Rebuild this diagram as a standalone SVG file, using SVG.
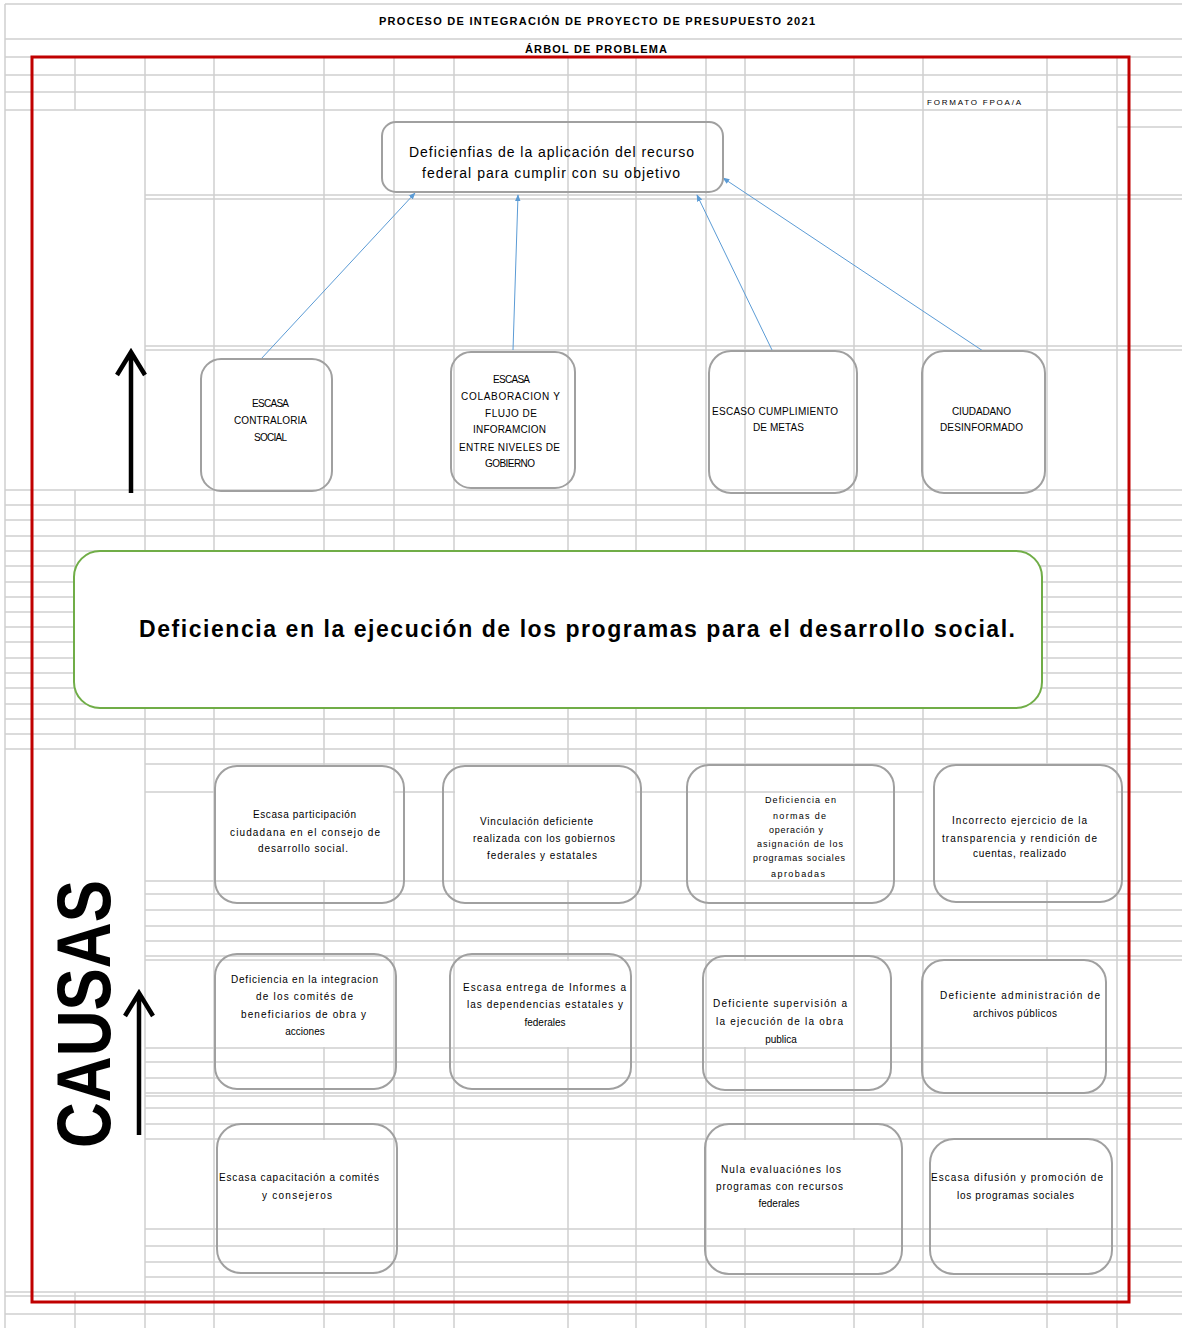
<svg xmlns="http://www.w3.org/2000/svg" width="1182" height="1328" viewBox="0 0 1182 1328">
<defs>
<style>
.g{stroke:#d0d0d0;stroke-width:1.5;fill:none}
.m{fill:#fff;stroke:none}
.box{fill:none;stroke:#a0a0a0;stroke-width:2}
.t{font-family:"Liberation Sans",Arial,sans-serif;font-size:10px;fill:#000}
.s{font-size:9px}
.c{text-anchor:middle}
.h{font-family:"Liberation Sans",Arial,sans-serif;font-weight:bold;font-size:11px;fill:#000}
.conn{stroke:#5b9bd5;stroke-width:1;fill:none;marker-end:url(#ah)}
.big{stroke:#000;stroke-width:4.5;fill:none;stroke-linejoin:miter}
</style>
<marker id="ah" viewBox="0 0 10 10" refX="9" refY="5" markerWidth="7" markerHeight="7" markerUnits="userSpaceOnUse" orient="auto"><path d="M0,1 L10,5 L0,9 z" fill="#5b9bd5"/></marker>
</defs>
<rect width="1182" height="1328" fill="#fff"/>
<g id="grid">
<path class="g" d="M5 4H1182M5 39H1182M5 57H1182M5 75H1182M5 92H1182M5 110H1182M1117 127H1182M145 195H1182M145 199H1182M145 346H1182M145 350H1182M5 490H1182M5 505H1182M5 520H1182M5 536H1182M5 551H1182M5 566H1182M5 582H1182M5 597H1182M5 612H1182M5 627H1182M5 642H1182M5 658H1182M5 673H1182M5 688H1182M5 704H1182M5 719H1182M5 734H1182M5 749H1182M145 764H1182M145 792H1182M145 881H1182M145 894H1182M145 910H1182M145 926H1182M145 941H1182M145 956H1182M145 960H1182M145 1048H1182M145 1062H1182M145 1078H1182M145 1093H1182M145 1096H1182M145 1108H1182M145 1124H1182M145 1139H1182M145 1229H1182M145 1246H1182M145 1262H1182M145 1277H1182M5 1292H1182M5 1296H1182M5 1314H1182"/>
<path class="g" d="M5 4V1328M75 57V110M75 490V749M75 1292V1328M145 57V1328M214 57V1328M324 57V1328M394 57V1328M454 57V1328M568 57V1328M636 57V1328M706 57V1328M745 57V1328M854 57V1328M923 57V1328M1047 57V1328M1117 57V1328"/>
<rect class="m" x="215" y="765" width="178" height="115"/>
<rect class="m" x="455" y="765" width="180" height="115"/>
<rect class="m" x="924" y="765" width="192" height="115"/>
<rect class="m" x="215" y="961" width="178" height="86"/>
<rect class="m" x="455" y="961" width="180" height="86"/>
<rect class="m" x="707" y="961" width="146" height="86"/>
<rect class="m" x="924" y="961" width="192" height="86"/>
<rect class="m" x="215" y="1140" width="178" height="88"/>
<rect class="m" x="707" y="1140" width="215" height="88"/>
<rect class="m" x="924" y="1140" width="192" height="88"/>
</g>
<g id="header">
<text class="h" x="379" y="25" textLength="436">PROCESO DE INTEGRACIÓN DE PROYECTO DE PRESUPUESTO 2021</text>
<text class="h" x="525" y="53" textLength="142">ÁRBOL DE PROBLEMA</text>
<text class="t" x="927" y="105" style="font-size:8px" textLength="94">FORMATO FPOA/A</text>
</g>
<rect id="frame" x="32" y="57" width="1097" height="1245" fill="none" stroke="#c00000" stroke-width="3"/>
<g id="connectors">
<line class="conn" x1="261" y1="359" x2="415" y2="193"/>
<line class="conn" x1="513" y1="350" x2="518" y2="195"/>
<line class="conn" x1="772" y1="350" x2="697" y2="195"/>
<line class="conn" x1="983" y1="351" x2="723" y2="178"/>
</g>
<g id="arrows">
<path class="big" d="M131 493V353M117 375L131 352L145 375"/>
<path class="big" d="M139 1135V994M125 1016L139 993L153 1016"/>
</g>
<text id="causas" transform="translate(110,1148) rotate(-90)" font-family="'Liberation Sans',Arial,sans-serif" font-weight="bold" font-size="76" textLength="268" lengthAdjust="spacingAndGlyphs" fill="#000">CAUSAS</text>
<g id="n-top">
<rect class="box" x="382" y="122" width="341" height="70" rx="14"/>
<text class="t" style="font-size:14px" x="409" y="157" textLength="285">Deficienfias de la aplicación del recurso</text>
<text class="t" style="font-size:14px" x="422" y="178" textLength="258">federal para cumplir con su objetivo</text>
</g>
<g id="e1">
<rect class="box" x="201" y="359" width="131" height="132" rx="20"/>
<text class="t" x="252" y="406.5" textLength="37">ESCASA</text>
<text class="t" x="234" y="423.5" textLength="73">CONTRALORIA</text>
<text class="t" x="254" y="440.5" textLength="33">SOCIAL</text>
</g>
<g id="e2">
<rect class="box" x="451" y="352" width="124" height="136" rx="20"/>
<text class="t" x="493" y="382.5" textLength="37">ESCASA</text>
<text class="t" x="461" y="399.5" textLength="99">COLABORACION Y</text>
<text class="t" x="485" y="416.5" textLength="52">FLUJO DE</text>
<text class="t" x="473" y="432.5" textLength="73">INFORAMCION</text>
<text class="t" x="459" y="450.5" textLength="101">ENTRE NIVELES DE</text>
<text class="t" x="485" y="466.5" textLength="50">GOBIERNO</text>
</g>
<g id="e3">
<rect class="box" x="709" y="351" width="148" height="142" rx="22"/>
<text class="t" x="712" y="414.5" textLength="126">ESCASO CUMPLIMIENTO</text>
<text class="t" x="753" y="430.5" textLength="51">DE METAS</text>
</g>
<g id="e4">
<rect class="box" x="922" y="351" width="123" height="142" rx="22"/>
<text class="t" x="952" y="414.5" textLength="59">CIUDADANO</text>
<text class="t" x="940" y="430.5" textLength="83">DESINFORMADO</text>
</g>
<g id="problem">
<rect x="74" y="551" width="968" height="157" rx="26" fill="#fff" stroke="#70ad47" stroke-width="2"/>
<text x="139" y="637" font-family="'Liberation Sans',Arial,sans-serif" font-weight="bold" font-size="23" textLength="876" fill="#000">Deficiencia en la ejecución de los programas para el desarrollo social.</text>
</g>
<g id="c1">
<rect class="box" x="215" y="766" width="189" height="137" rx="22"/>
<text class="t" x="253" y="817.5" textLength="103">Escasa participación</text>
<text class="t" x="230" y="835.5" textLength="150">ciudadana en el consejo de</text>
<text class="t" x="258" y="851.5" textLength="90">desarrollo social.</text>
</g>
<g id="c2">
<rect class="box" x="443" y="766" width="198" height="137" rx="22"/>
<text class="t" x="480" y="824.5" textLength="113">Vinculación deficiente</text>
<text class="t" x="473" y="841.5" textLength="142">realizada con los gobiernos</text>
<text class="t" x="487" y="858.5" textLength="110">federales y estatales</text>
</g>
<g id="c3">
<rect class="box" x="687" y="765" width="207" height="138" rx="22"/>
<text class="t s" x="765" y="803" textLength="71">Deficiencia en</text>
<text class="t s" x="773" y="819" textLength="53">normas de</text>
<text class="t s" x="769" y="833" textLength="54">operación y</text>
<text class="t s" x="757" y="847" textLength="86">asignación de los</text>
<text class="t s" x="753" y="861" textLength="92">programas sociales</text>
<text class="t s" x="771" y="877" textLength="54">aprobadas</text>
</g>
<g id="c4">
<rect class="box" x="934" y="765" width="188" height="137" rx="22"/>
<text class="t" x="952" y="823.5" textLength="135">Incorrecto ejercicio de la</text>
<text class="t" x="942" y="841.5" textLength="155">transparencia y rendición de</text>
<text class="t" x="973" y="856.5" textLength="93">cuentas, realizado</text>
</g>
<g id="c5">
<rect class="box" x="215" y="954" width="181" height="135" rx="22"/>
<text class="t" x="231" y="982.5" textLength="147">Deficiencia en la integracion</text>
<text class="t" x="256" y="999.5" textLength="97">de los comités de</text>
<text class="t" x="241" y="1017.5" textLength="125">beneficiarios de obra y</text>
<text class="t c" x="305" y="1034.5">acciones</text>
</g>
<g id="c6">
<rect class="box" x="450" y="954" width="181" height="135" rx="22"/>
<text class="t" x="463" y="990.5" textLength="163">Escasa entrega de Informes a</text>
<text class="t" x="467" y="1007.5" textLength="156">las dependencias estatales y</text>
<text class="t c" x="545" y="1025.5">federales</text>
</g>
<g id="c7">
<rect class="box" x="703" y="956" width="188" height="134" rx="22"/>
<text class="t" x="713" y="1006.5" textLength="134">Deficiente supervisión a</text>
<text class="t" x="716" y="1024.5" textLength="127">la ejecución de la obra</text>
<text class="t c" x="781" y="1042.5">publica</text>
</g>
<g id="c8">
<rect class="box" x="922" y="960" width="184" height="133" rx="22"/>
<text class="t" x="940" y="998.5" textLength="160">Deficiente administración de</text>
<text class="t" x="973" y="1016.5" textLength="84">archivos públicos</text>
</g>
<g id="c9">
<rect class="box" x="217" y="1124" width="180" height="149" rx="24"/>
<text class="t" x="219" y="1181" textLength="160">Escasa capacitación a comités</text>
<text class="t" x="262" y="1199" textLength="70">y consejeros</text>
</g>
<g id="c10">
<rect class="box" x="705" y="1124" width="197" height="150" rx="24"/>
<text class="t" x="721" y="1172.5" textLength="120">Nula evaluaciónes los</text>
<text class="t" x="716" y="1189.5" textLength="127">programas con recursos</text>
<text class="t c" x="779" y="1206.5">federales</text>
</g>
<g id="c11">
<rect class="box" x="930" y="1139" width="182" height="135" rx="24"/>
<text class="t" x="931" y="1181" textLength="172">Escasa difusión y promoción de</text>
<text class="t" x="957" y="1199" textLength="117">los programas sociales</text>
</g>
</svg>
